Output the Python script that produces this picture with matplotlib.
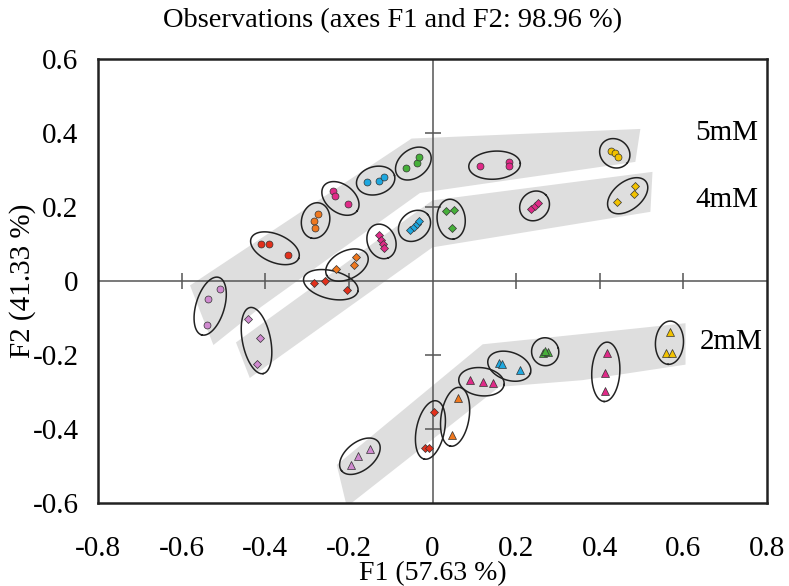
import numpy as np
import matplotlib.pyplot as plt

plt.rcParams['font.family'] = ['Liberation Serif', 'DejaVu Serif']
plt.rcParams['axes.unicode_minus'] = False

# marker colours used for the sample groups
col_purple = '#d08ad0'
col_red = '#e2301c'
col_orange = '#f0781e'
col_pink = '#e02a88'
col_blue = '#1ea8e0'
col_green = '#46b03a'
col_yellow = '#f2c200'

# 5mM series (circles)
c5_colors = [col_purple, col_red, col_orange, col_pink, col_blue, col_green, col_pink, col_yellow]
c5_x = [[-0.509, -0.537, -0.539], [-0.411, -0.392, -0.345], [-0.273, -0.284, -0.280],
        [-0.237, -0.233, -0.201], [-0.156, -0.128, -0.117], [-0.064, -0.037, -0.032],
        [0.113, 0.182, 0.184], [0.426, 0.437, 0.444]]
c5_y = [[-0.022, -0.048, -0.119], [0.100, 0.101, 0.071], [0.181, 0.161, 0.144],
        [0.242, 0.230, 0.208], [0.267, 0.271, 0.280], [0.305, 0.319, 0.336],
        [0.310, 0.322, 0.310], [0.352, 0.346, 0.336]]

# 4mM series (diamonds)
c4_colors = [col_purple, col_red, col_orange, col_pink, col_blue, col_green, col_pink, col_yellow]
c4_x = [[-0.441, -0.412, -0.419], [-0.284, -0.256, -0.205], [-0.183, -0.188, -0.231],
        [-0.128, -0.124, -0.119, -0.116], [-0.055, -0.045, -0.037, -0.032],
        [0.033, 0.051, 0.047], [0.236, 0.244, 0.252], [0.485, 0.482, 0.442]]
c4_y = [[-0.103, -0.155, -0.223], [-0.006, 0.001, -0.025], [0.065, 0.043, 0.032],
        [0.124, 0.111, 0.100, 0.090], [0.138, 0.147, 0.154, 0.161],
        [0.190, 0.192, 0.143], [0.194, 0.203, 0.212], [0.257, 0.234, 0.213]]

# 2mM series (triangles, red group drawn as diamonds)
c2_colors = [col_purple, col_red, col_orange, col_pink, col_blue, col_green, col_pink, col_yellow]
c2_markers = ['^', 'D', '^', '^', '^', '^', '^', '^']
c2_x = [[-0.149, -0.179, -0.195], [0.004, -0.019, -0.009], [0.061, 0.047],
        [0.089, 0.121, 0.145], [0.158, 0.166, 0.209], [0.264, 0.276, 0.270],
        [0.418, 0.413, 0.413], [0.568, 0.558, 0.572]]
c2_y = [[-0.455, -0.474, -0.497], [-0.353, -0.451, -0.451], [-0.317, -0.417],
        [-0.268, -0.273, -0.276], [-0.221, -0.223, -0.240], [-0.195, -0.192, -0.188],
        [-0.195, -0.249, -0.296], [-0.138, -0.195, -0.195]]

# grey bands behind each series
band5 = [(-0.58, -0.012), (-0.05, 0.385), (0.497, 0.411), (0.485, 0.322),
         (-0.03, 0.238), (-0.41, -0.070), (-0.524, -0.173)]
band4 = [(-0.47, -0.166), (0.0, 0.218), (0.526, 0.295), (0.521, 0.187),
         (0.0, 0.091), (-0.437, -0.262)]
band2 = [(-0.229, -0.497), (0.12, -0.171), (0.454, -0.132), (0.605, -0.114),
         (0.605, -0.226), (0.358, -0.268), (0.16, -0.286), (-0.205, -0.61)]

series_labels = ['5mM', '4mM', '2mM']
label_pos = [(0.627, 0.40), (0.629, 0.219), (0.639, -0.165)]

xticks = [-0.8, -0.6, -0.4, -0.2, 0, 0.2, 0.4, 0.6, 0.8]
yticks = [-0.6, -0.4, -0.2, 0, 0.2, 0.4, 0.6]

fig = plt.figure(figsize=(7.89, 5.86), dpi=100)
ax_box = [0.1242, 0.1416, 0.848, 0.7577]
ax = fig.add_axes(ax_box)
ax.set_xlim(-0.8, 0.8)
ax.set_ylim(-0.6, 0.6)

W = ax_box[2] * 7.89
H = ax_box[3] * 5.86
sx = W / 1.6
sy = H / 1.2


def draw_ellipse(xs, ys):
    # ellipse around a cluster, computed in screen-like units (inches)
    u = np.array(xs) * sx
    v = np.array(ys) * sy
    cu, cv = u.mean(), v.mean()
    pts = np.c_[u - cu, v - cv]
    _, _, vt = np.linalg.svd(pts)
    d1 = vt[0]
    d2 = np.array([-d1[1], d1[0]])
    p1 = pts @ d1
    p2 = pts @ d2
    a = (p1.max() - p1.min()) / 2 + 0.11
    b = max((p2.max() - p2.min()) / 2 + 0.1, 0.14)
    m1 = (p1.max() + p1.min()) / 2
    m2 = (p2.max() + p2.min()) / 2
    t = np.linspace(0, 2 * np.pi, 120)
    eu = cu + (m1 + a * np.cos(t)) * d1[0] + (m2 + b * np.sin(t)) * d2[0]
    ev = cv + (m1 + a * np.cos(t)) * d1[1] + (m2 + b * np.sin(t)) * d2[1]
    ax.plot(eu / sx, ev / sy, color='#222222', lw=1.1, zorder=3)


for band in [band5, band4, band2]:
    ax.add_patch(plt.Polygon(band, closed=True, facecolor='#dedede', edgecolor='none', zorder=1))

# crosshair with its small ticks
ax.axhline(0, color='#555555', lw=1.1, zorder=2)
ax.axvline(0, color='#555555', lw=1.1, zorder=2)
tk = [-0.6, -0.4, -0.2, 0.2, 0.4, 0.6]
ax.plot(tk, np.zeros(len(tk)), ls='none', marker='|', ms=12, mew=1.1, color='#555555', zorder=2)
tk_y = [-0.4, -0.2, 0.2, 0.4]
ax.plot(np.zeros(len(tk_y)), tk_y, ls='none', marker='_', ms=12, mew=1.1, color='#555555', zorder=2)

for cols, xs_all, ys_all, marks in [(c5_colors, c5_x, c5_y, ['o'] * 8),
                                    (c4_colors, c4_x, c4_y, ['D'] * 8),
                                    (c2_colors, c2_x, c2_y, c2_markers)]:
    for c, xs, ys, m in zip(cols, xs_all, ys_all, marks):
        draw_ellipse(xs, ys)
        ms = 5 if m == 'o' else (4.2 if m == 'D' else 5.5)
        ax.plot(xs, ys, ls='none', marker=m, ms=ms, mfc=c, mec='#333333', mew=0.5, zorder=4)

for lab, (lx, ly) in zip(series_labels, label_pos):
    ax.text(lx, ly, lab, fontsize=21, ha='left', va='center', zorder=5)

ax.set_xticks(xticks)
ax.set_xticklabels(['%g' % v for v in xticks], fontsize=21)
ax.set_yticks(yticks)
ax.set_yticklabels(['%g' % v for v in yticks], fontsize=21)
ax.tick_params(length=0)
ax.tick_params(axis='x', pad=24)
ax.tick_params(axis='y', pad=14)
for s in ax.spines.values():
    s.set_linewidth(1.8)
    s.set_color('#222222')

fig.text(0.548, 0.0, 'F1 (57.63 %)', fontsize=20, ha='center', va='bottom')
fig.text(0.028, 1 - 281 / 586, 'F2 (41.33 %)', fontsize=21, ha='center', va='center', rotation=90)
fig.text(0.497, 0.964, 'Observations (axes F1 and F2: 98.96 %)', fontsize=20.5, ha='center', va='center')

fig.savefig('out.png', dpi=100)
